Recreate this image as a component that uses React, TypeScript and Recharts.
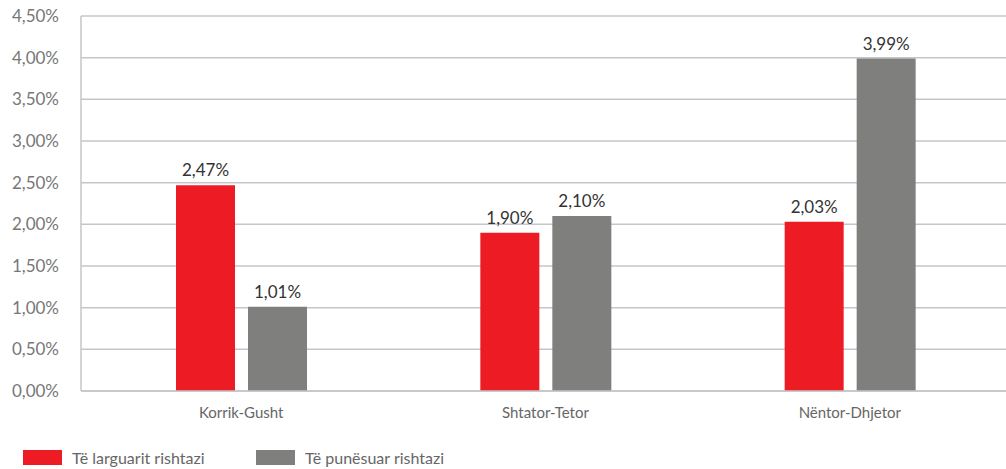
import React from 'react';
import { BarChart, Bar, XAxis, YAxis, CartesianGrid, Legend, LabelList } from 'recharts';

const categories = ['Korrik-Gusht', 'Shtator-Tetor', 'Nëntor-Dhjetor'];
const larguar = [2.47, 1.9, 2.03];
const punesuar = [1.01, 2.1, 3.99];
const yTicks = [0, 0.5, 1, 1.5, 2, 2.5, 3, 3.5, 4, 4.5];
const seriesNames = ['Të larguarit rishtazi', 'Të punësuar rishtazi'];
const colors = ['#ED1C24', '#7F7F7D'];

const data = categories.map((c, i) => ({ name: c, a: larguar[i], b: punesuar[i] }));

const fmt = (v: number) => v.toFixed(2).replace('.', ',') + '%';
const FONT = 'Lato, "Open Sans", sans-serif';

const LegendContent = () => (
  <div style={{ position: 'relative', width: 1006, height: 40, fontFamily: FONT }}>
    {[0, 1].map((i) => (
      <div key={i} style={{ position: 'absolute', left: i === 0 ? 23 : 256, top: 21, display: 'flex', alignItems: 'center' }}>
        <div style={{ width: 39, height: 15, background: colors[i] }} />
        <span style={{ marginLeft: 10, fontSize: 16, color: '#666', lineHeight: '15px' }}>{seriesNames[i]}</span>
      </div>
    ))}
  </div>
);

export default function App() {
  return (
    <div style={{ width: 1006, height: 469, background: '#fff' }}>
      <style>{`body{margin:0}`}</style>
      <BarChart
        width={1006}
        height={469}
        data={data}
        margin={{ top: 16, right: 0, left: 0, bottom: 0 }}
        barSize={59}
        barGap={13}
      >
        <CartesianGrid vertical={false} stroke="#C6C6CA" strokeWidth={1.5} />
        <XAxis
          dataKey="name"
          height={38}
          padding={{ left: 8, right: 4 }}
          tickLine={false}
          axisLine={{ stroke: '#C6C6CA', strokeWidth: 1.5 }}
          tick={{ fill: '#666', fontSize: 15, fontFamily: FONT }}
          tickMargin={10}
        />
        <YAxis
          width={81}
          domain={[0, 4.5]}
          ticks={yTicks}
          tickFormatter={fmt}
          tickLine={false}
          axisLine={{ stroke: '#C6C6CA', strokeWidth: 1.5 }}
          tick={{ fill: '#777', fontSize: 17, fontFamily: FONT }}
          tickMargin={16}
          interval={0}
        />
        <Legend verticalAlign="bottom" height={40} content={<LegendContent />} wrapperStyle={{ left: 0, bottom: 0, width: 1006, height: 40 }} />
        <Bar dataKey="a" fill={colors[0]} isAnimationActive={false}>
          <LabelList dataKey="a" position="top" offset={9} formatter={(v: number) => fmt(v)} style={{ fill: '#333', fontSize: 17, fontFamily: FONT }} />
        </Bar>
        <Bar dataKey="b" fill={colors[1]} isAnimationActive={false}>
          <LabelList dataKey="b" position="top" offset={9} formatter={(v: number) => fmt(v)} style={{ fill: '#333', fontSize: 17, fontFamily: FONT }} />
        </Bar>
      </BarChart>
    </div>
  );
}
